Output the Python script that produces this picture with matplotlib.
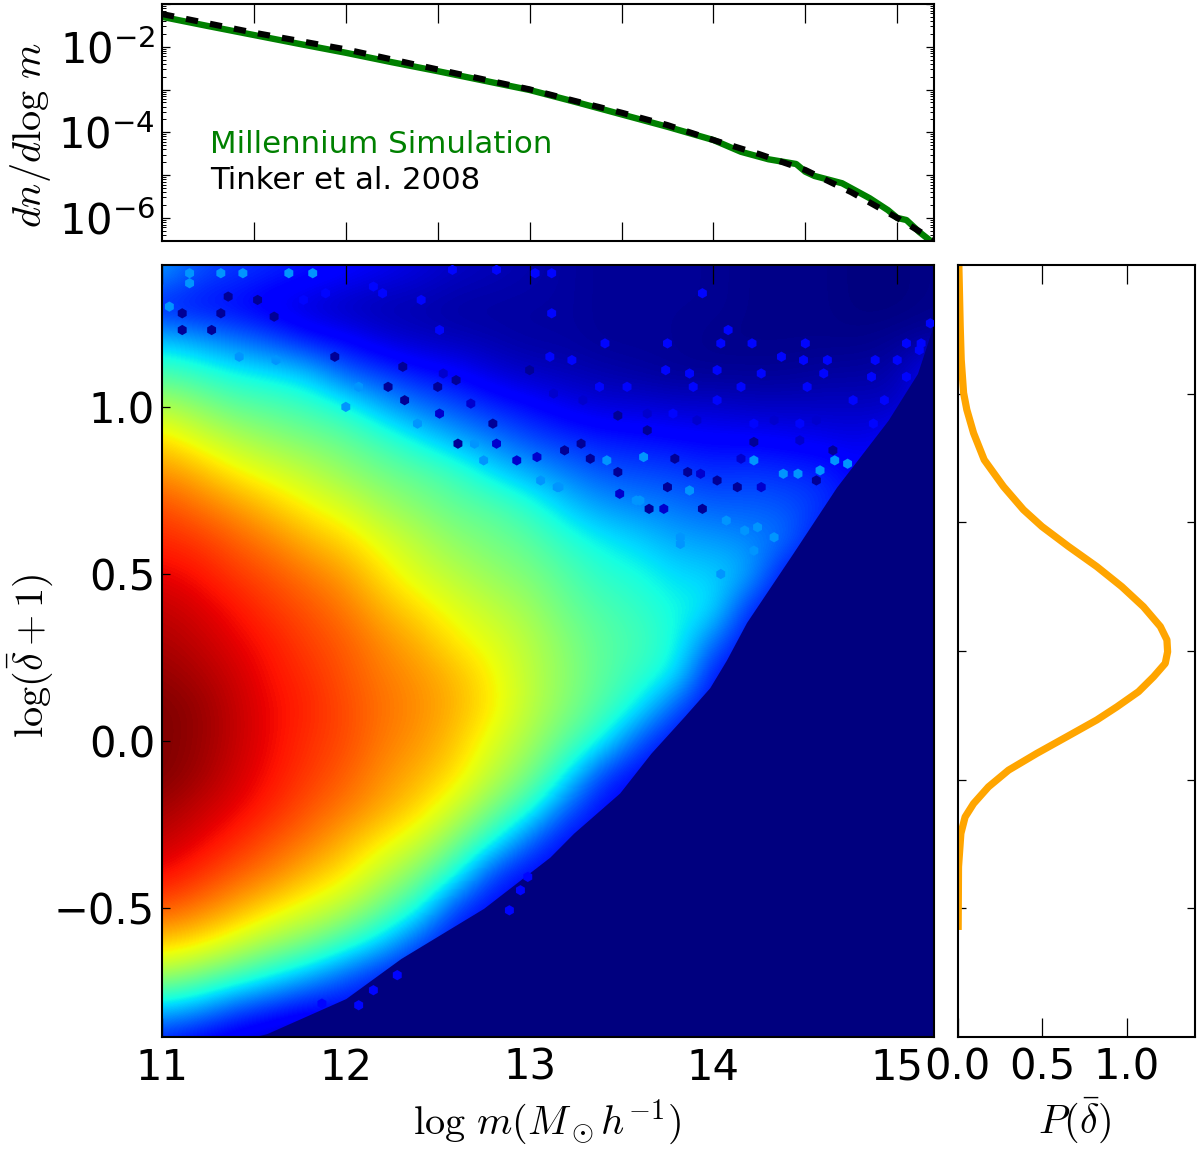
import numpy as np
import matplotlib
matplotlib.use("Agg")
import matplotlib.pyplot as plt
from matplotlib.ticker import FixedLocator, LogLocator, NullFormatter

plt.rcParams["mathtext.fontset"] = "cm"
plt.rcParams["mathtext.default"] = "it"
plt.rcParams["font.family"] = "DejaVu Sans"

# mass function panel
tinker_m = [11.0, 11.5, 12.0, 12.5, 13.0, 13.25, 13.5, 13.75, 14.0, 14.25, 14.5, 14.75, 15.0, 15.2]
tinker_logn = [-1.234, -1.67, -2.06, -2.53, -2.995, -3.27, -3.54, -3.83, -4.18, -4.51, -4.88, -5.40, -6.0, -6.52]
sim_m = [11.0, 11.25, 11.5, 11.75, 12.0, 12.25, 12.5, 12.75, 13.0, 13.25, 13.5, 13.75, 14.0, 14.15,
         14.3, 14.45, 14.5, 14.55, 14.7, 14.85, 14.95, 15.0, 15.05, 15.12, 15.2]
sim_logn = [-1.30, -1.515, -1.725, -1.935, -2.14, -2.36, -2.57, -2.79, -3.01, -3.29, -3.58, -3.87, -4.18,
            -4.455, -4.63, -4.74, -4.92, -5.02, -5.19, -5.54, -5.82, -6.0, -6.05, -6.33, -6.6]

# density distribution panel
p_delta = [1.5, 1.262, 1.132, 1.003, .938, .847, .743, .639, .549, .484, .406, .328, .25, .172, .095, .043,
           -.003, -.048, -.1, -.158, -.217, -.268, -.333, -.398, -.463, -.528, -.593, -.645, -.709, -.839, -1.07]
p_value = [.008, .016, .022, .036, .055, .095, .158, .272, .39, .499, .657, .824, .972, 1.10, 1.2, 1.239,
           1.243, 1.229, 1.16, 1.071, .943, .824, .647, .469, .302, .183, .095, .045, .02, .006, .004]

# halo density map: level per mass column, delta rows running from 1.4 down to -0.9
grid_mass = [11.0, 11.2, 11.4, 11.6, 11.8, 12.0, 12.2, 12.4, 12.6, 12.8, 13.0, 13.2, 13.4, 13.6, 13.8, 14.0,
             14.2, 14.4, 14.6, 14.8, 15.0, 15.2]
grid_delta = [1.4, 1.3, 1.2, 1.1, 1.0, .9, .8, .7, .6, .5, .4, .3, .2, .1, 0, -.1, -.2, -.3, -.4, -.5, -.6, -.7, -.8, -.9]
level_columns = [
    [28, 14, 32, 44, 57, 68, 76, 83, 87, 91, 94, 96, 98, 100, 100, 100, 97, 94, 90, 82, 70, 55, 32, 14],
    [20, 13, 28, 41, 52, 62, 72, 79, 85, 89, 92, 94, 96, 98, 98, 97, 94, 91, 86, 78, 67, 50, 28, 10],
    [18, 12, 24, 37, 47, 57, 66, 75, 81, 85, 89, 91, 93, 94, 94, 93, 91, 87, 81, 73, 61, 44, 20, 8],
    [16, 9, 20, 35, 45, 53, 62, 70, 77, 82, 85, 88, 89, 90, 90, 89, 87, 82, 77, 67, 55, 37, 16, 6],
    [14, 7, 14, 32, 42, 50, 58, 65, 72, 78, 82, 84, 86, 87, 86, 85, 82, 78, 71, 62, 50, 30, 12, 4],
    [12, 5, 12, 22, 38, 47, 53, 61, 68, 74, 78, 81, 82, 83, 83, 81, 78, 72, 66, 57, 42, 22, 12, 12],
    [10, 4, 8, 18, 30, 42, 49, 55, 62, 67, 72, 76, 78, 79, 78, 76, 73, 66, 58, 48, 33, 15, 12, 12],
    [8, 4, 6, 14, 24, 36, 46, 51, 57, 61, 67, 72, 75, 76, 75, 72, 68, 60, 50, 38, 20, 12, 12, 12],
    [6, 3, 5, 12, 20, 30, 42, 47, 52, 57, 62, 66, 71, 72, 70, 67, 60, 50, 38, 18, 12, 12, 12, 12],
    [5, 3, 4, 8, 16, 25, 35, 45, 49, 53, 58, 62, 65, 66, 62, 58, 50, 38, 18, 12, 12, 12, 12, 12],
    [4, 3, 3, 6, 13, 20, 30, 40, 46, 50, 54, 57, 58, 58, 55, 50, 40, 22, 12, 12, 12, 12, 12, 12],
    [3, 3, 3, 5, 10, 17, 25, 33, 40, 45, 48, 51, 52, 51, 46, 37, 22, 12, 12, 12, 12, 12, 12, 12],
    [2, 2, 2, 4, 8, 15, 21, 28, 36, 40, 44, 46, 46, 44, 37, 18, 12, 12, 12, 12, 12, 12, 12, 12],
    [2, 2, 2, 3, 8, 14, 20, 26, 33, 38, 41, 43, 41, 36, 20, 12, 12, 12, 12, 12, 12, 12, 12, 12],
    [2, 2, 2, 2, 7, 13, 19, 24, 29, 34, 37, 38, 36, 20, 12, 12, 12, 12, 12, 12, 12, 12, 12, 12],
    [2, 2, 1, 2, 7, 12, 17, 22, 28, 33, 36, 24, 13, 12, 12, 12, 12, 12, 12, 12, 12, 12, 12, 12],
    [1, 1, 1, 2, 6, 12, 18, 22, 26, 30, 16, 12, 12, 12, 12, 12, 12, 12, 12, 12, 12, 12, 12, 12],
    [1, 1, 1, 2, 6, 11, 17, 21, 24, 12, 12, 12, 12, 12, 12, 12, 12, 12, 12, 12, 12, 12, 12, 12],
    [1, 1, 1, 3, 6, 10, 16, 18, 12, 12, 12, 12, 12, 12, 12, 12, 12, 12, 12, 12, 12, 12, 12, 12],
    [0, 0, 1, 3, 6, 9, 12, 12, 12, 12, 12, 12, 12, 12, 12, 12, 12, 12, 12, 12, 12, 12, 12, 12],
    [0, 0, 2, 4, 6, 12, 12, 12, 12, 12, 12, 12, 12, 12, 12, 12, 12, 12, 12, 12, 12, 12, 12, 12],
    [1, 1, 3, 12, 12, 12, 12, 12, 12, 12, 12, 12, 12, 12, 12, 12, 12, 12, 12, 12, 12, 12, 12, 12],
]

# lowest occupied density at each mass
edge_mass = [11.0, 11.57, 12.0, 12.3, 12.75, 13.11, 13.24, 13.49, 13.66, 13.84, 13.98, 14.07, 14.18, 14.43, 14.67,
             14.95, 15.11, 15.2]
edge_delta = [-.95, -.875, -.77, -.65, -.50, -.347, -.275, -.155, -.036, .073, .16, .242, .355, .56, .76, .96,
              1.10, 1.25]

# sparsely populated individual bins
sparse_mass = [13.12, 13.94, 13.12, 14.08, 15.18, 13.41, 13.75, 14.04, 14.21, 14.50, 15.05, 15.13, 15.12, 13.11,
               13.23, 14.37, 14.62, 14.88, 15.0, 14.49, 13.74, 13.87, 14.02, 14.26, 14.60, 15.05, 14.86, 13.53,
               13.89, 14.15, 14.51, 14.93, 14.02, 14.76, 13.38, 13.78, 14.22, 14.47, 14.87,
               12.51, 12.15, 12.58, 12.82, 13.03, 12.41, 12.2, 11.89, 11.77,
               12.07, 11.87, 12.15, 12.28, 12.95, 12.89, 12.99]
sparse_delta = [1.40, 1.34, 1.28, 1.23, 1.25, 1.19, 1.19, 1.19, 1.19, 1.19, 1.19, 1.19, 1.17, 1.15,
                1.14, 1.15, 1.14, 1.14, 1.14, 1.14, 1.11, 1.10, 1.11, 1.10, 1.10, 1.09, 1.09, 1.06,
                1.06, 1.06, 1.06, 1.02, 1.02, 1.02, 1.06, .98, .95, .95, .95,
                1.23, 1.36, 1.41, 1.41, 1.40, 1.32, 1.34, 1.34, 1.32,
                -.79, -.785, -.745, -.70, -.446, -.506, -.406]
empty_mass = [13.33, 13.79, 14.13, 13.94, 13.65, 13.28, 13.48, 13.64, 14.22, 14.65, 14.56, 14.02, 13.75, 13.19,
              13.86, 13.48, 11.11, 11.32, 11.36, 11.52, 11.27, 11.61, 11.11, 11.94, 12.23, 12.31, 12.5, 12.61,
              12.8, 12.6, 12.32, 13.0]
empty_delta = [.845, .845, .76, .695, .695, .89, .974, .93, .895, .87, .78, .78, .76, .87,
               .805, .805, 1.28, 1.28, 1.33, 1.32, 1.23, 1.27, 1.23, 1.15, 1.06, 1.12, 1.06, .89,
               .95, 1.08, 1.02, 1.11]
dim_mass = [13.13, 13.29, 13.64, 13.91, 14.33, 14.56, 14.47, 14.15, 13.93, 13.49, 13.73, 14.26,
            12.51, 12.68, 12.53, 12.82, 12.93, 13.04]
dim_delta = [1.04, 1.02, .98, .96, .96, .96, .90, .845, .80, .74, .695, .76,
             .98, 1.01, 1.10, .89, .84, .85]
bright_mass = [11.15, 11.32, 11.44, 11.69, 11.82, 13.82, 14.24, 13.58, 13.16, 12.70, 12.75, 13.06,
               14.17, 13.6, 13.87, 14.38, 14.46, 14.58, 14.66, 14.73, 14.22, 13.62, 13.15, 13.42, 14.07, 14.33,
               14.22, 14.04, 13.82, 11.04, 11.15, 11.42, 11.62, 12.07, 12.0, 12.39]
bright_delta = [1.40, 1.40, 1.40, 1.40, 1.40, .59, .64, .72, .76, .89, .84, .78,
                .63, .72, .75, .80, .80, .81, .84, .83, .84, .85, .76, .84, .66, .61,
                .57, .50, .61, 1.30, 1.37, 1.15, 1.14, 1.06, 1.0, .95]

W, H = 1200.0, 1149.0


def rect(left, top, right, bottom):
    return [left / W, 1 - bottom / H, (right - left) / W, (bottom - top) / H]


fig = plt.figure(figsize=(12, 11.49), dpi=100)
ax_top = fig.add_axes(rect(162, 4, 934, 241))
ax_map = fig.add_axes(rect(162, 265, 934, 1037))
ax_side = fig.add_axes(rect(957.5, 265, 1195, 1037))

TICK = 30
for ax in (ax_top, ax_map, ax_side):
    for s in ax.spines.values():
        s.set_linewidth(1.5)
    ax.tick_params(which="both", direction="in", top=True, right=True, labelsize=TICK, color="black")
    ax.tick_params(axis="x", which="major", length=14, width=0.9, pad=7)
    ax.tick_params(axis="y", which="major", length=6, width=0.9, pad=5)

# mass function
ax_top.set_yscale("log")
ax_top.plot(sim_m, 10.0 ** np.array(sim_logn), color="green", lw=4.6, solid_joinstyle="round")
ax_top.plot(tinker_m, 10.0 ** np.array(tinker_logn), color="black", lw=4.4, linestyle=(0, (2.0, 2.0)),
            dash_capstyle="butt")
ax_top.set_xlim(11, 15.2)
ax_top.set_ylim(10 ** -6.54, 0.1)
ax_top.xaxis.set_major_locator(FixedLocator([11.5, 12, 12.5, 13, 13.5, 14, 14.5, 15]))
ax_top.tick_params(labelbottom=False)
ax_top.yaxis.set_major_locator(FixedLocator([1e-6, 1e-5, 1e-4, 1e-3, 1e-2, 1e-1]))
ax_top.yaxis.set_major_formatter(plt.FixedFormatter(
    [r"$\mathdefault{10^{-6}}$", "", r"$\mathdefault{10^{-4}}$", "", r"$\mathdefault{10^{-2}}$", ""]))
ax_top.yaxis.set_minor_locator(LogLocator(base=10, subs=np.arange(2, 10), numticks=12))
ax_top.yaxis.set_minor_formatter(NullFormatter())
ax_top.tick_params(axis="y", which="minor", length=3, width=0.7)
ax_top.text(11.26, 10 ** -4.485, "Millennium Simulation", color="green", fontsize=22.2, va="baseline")
ax_top.text(11.26, 10 ** -5.33, "Tinker et al. 2008", color="black", fontsize=22.2, va="baseline")

# density map
levels = np.array(level_columns, dtype=float).T
ax_map.set_facecolor("#00007f")
ax_map.imshow(levels, cmap="jet", vmin=0, vmax=100, interpolation="bicubic", aspect="auto",
              extent=[grid_mass[0] - 0.1, grid_mass[-1] + 0.1, grid_delta[-1] - 0.05, grid_delta[0] + 0.05])
ax_map.fill_between(edge_mass, edge_delta, -1.0, color="#00007f", lw=0, zorder=2)
hex_kw = dict(marker="h", s=55, linewidths=0, cmap="jet", vmin=0, vmax=100, zorder=3)
ax_map.scatter(sparse_mass, sparse_delta, c=[13] * len(sparse_mass), **hex_kw)
ax_map.scatter(empty_mass, empty_delta, c=[2] * len(empty_mass), **hex_kw)
ax_map.scatter(dim_mass, dim_delta, c=[7] * len(dim_mass), **hex_kw)
ax_map.scatter(bright_mass, bright_delta, c=[27] * len(bright_mass), **hex_kw)
ax_map.set_xlim(11, 15.2)
ax_map.set_ylim(-0.885, 1.4245)
ax_map.set_xticks([11, 12, 13, 14, 15])
ax_map.set_yticks([-0.5, 0.0, 0.5, 1.0])

# density distribution
ax_side.plot(p_value, p_delta, color="orange", lw=5.2)
ax_side.set_xlim(0, 1.405)
ax_side.set_ylim(-1.5, 1.5)
ax_side.set_xticks([0, 0.5, 1.0])
ax_side.set_yticks([-1, -0.5, 0, 0.5, 1])
ax_side.tick_params(labelleft=False)

LABEL = 29
fig.text(31 / W, 1 - 135 / H, r"$dn/d\log\,m$", fontsize=LABEL, rotation=90, ha="center", va="center")
fig.text(30 / W, 1 - 656 / H, r"$\log(\bar{\delta}+1)$", fontsize=LABEL, rotation=90, ha="center", va="center")
fig.text(547 / W, 1 - 1122 / H, r"$\log\,m(M_\odot h^{-1})$", fontsize=LABEL, ha="center", va="center")
fig.text(1075 / W, 1 - 1120 / H, r"$P(\bar{\delta})$", fontsize=LABEL, ha="center", va="center")

fig.savefig("out.png", dpi=100)
